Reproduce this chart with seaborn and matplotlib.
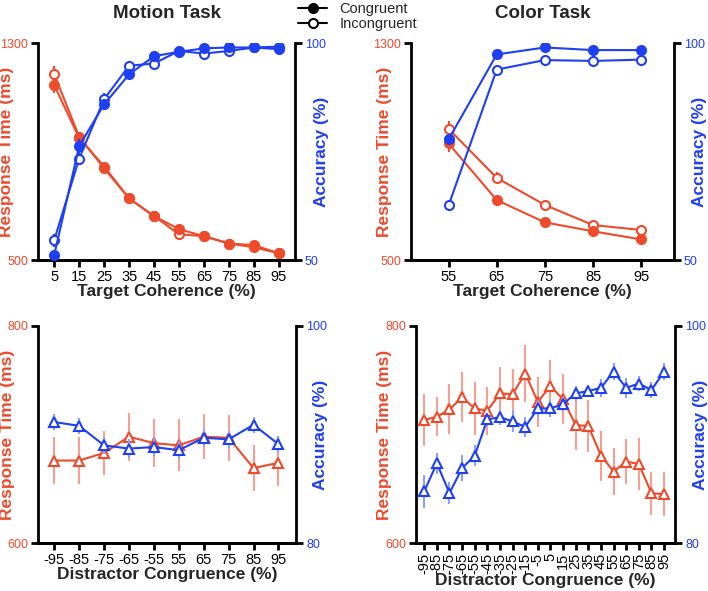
import numpy as np
import pandas as pd
import matplotlib
matplotlib.use("Agg")
import matplotlib.pyplot as plt
from matplotlib.lines import Line2D
import seaborn as sns

sns.set_style("ticks")
plt.rcParams['font.family'] = ['Liberation Sans', 'DejaVu Sans']

RED = "#ee4a2c"
BLUE = "#1f3ff2"
RED_L = "#f4a094"
BLUE_L = "#8d9ff6"

# ---------------- data ----------------
motion_coh = ["5", "15", "25", "35", "45", "55", "65", "75", "85", "95"]
motion_rt_con = [1145, 950, 845, 727, 662, 614, 588, 561, 555, 525]
motion_rt_inc = [1185, 955, 838, 727, 662, 595, 588, 561, 547, 525]
motion_rt_con_err = [28, 18, 15, 12, 10, 8, 6, 5, 5, 5]
motion_rt_inc_err = [30, 18, 15, 14, 10, 8, 6, 5, 5, 5]
motion_acc_con = [51.2, 76.3, 85.9, 92.8, 97.0, 98.0, 98.8, 99.0, 99.0, 98.6]
motion_acc_inc = [54.6, 73.4, 87.1, 94.8, 95.3, 98.2, 97.6, 98.2, 99.0, 99.2]
motion_acc_con_err = [1.2, 1.5, 1.4, 1.0, 0.6, 0.5, 0.4, 0.4, 0.4, 0.4]
motion_acc_inc_err = [1.5, 1.5, 1.4, 1.0, 0.6, 0.5, 0.4, 0.4, 0.4, 0.4]

color_coh = ["55", "65", "75", "85", "95"]
color_rt_con = [930, 721, 639, 606, 576]
color_rt_inc = [984, 803, 703, 629, 611]
color_rt_con_err = [30, 15, 12, 8, 8]
color_rt_inc_err = [30, 20, 15, 8, 8]
color_acc_con = [77.8, 97.4, 99.0, 98.4, 98.4]
color_acc_inc = [62.6, 93.9, 96.1, 95.9, 96.2]
color_acc_con_err = [1.0, 0.5, 0.4, 0.4, 0.4]
color_acc_inc_err = [1.2, 0.6, 0.4, 0.4, 0.4]

motion_dist = ["-95", "-85", "-75", "-65", "-55", "55", "65", "75", "85", "95"]
motion_dist_rt = [676, 676, 683, 698, 692, 690, 698, 697, 669, 674]
motion_dist_rt_err = [22, 22, 20, 22, 22, 24, 21, 21, 21, 21]
motion_dist_acc = [91.15, 90.8, 89.0, 88.7, 88.85, 88.55, 89.7, 89.55, 90.9, 89.1]
motion_dist_acc_err = [0.75, 0.75, 0.8, 0.9, 0.8, 0.85, 0.8, 0.8, 0.75, 0.8]

color_dist = ["-95", "-85", "-75", "-65", "-55", "-45", "-35", "-25", "-15", "-5",
              "5", "15", "25", "35", "45", "55", "65", "75", "85", "95"]
color_dist_rt = [713.3, 716.4, 723.1, 734.2, 724.0, 721.9, 737.8, 737.2, 756.2, 730.2,
                 744.6, 732.3, 708.7, 707.8, 680.6, 665.9, 675.0, 672.9, 645.9, 645.0]
color_dist_rt_err = [23.7, 18, 23, 23, 24, 22, 24, 23, 26, 23,
                     24, 23, 23, 24, 23, 22, 21, 24, 20, 20]
color_dist_acc = [84.75, 87.35, 84.6, 86.9, 88.05, 91.4, 91.6, 91.2, 90.7, 92.4,
                  92.4, 92.8, 93.8, 94.0, 94.3, 95.8, 94.3, 94.7, 94.1, 95.8]
color_dist_acc_err = [1.5, 0.95, 1.0, 1.2, 0.95, 0.6, 0.7, 1.0, 0.95, 0.77,
                      0.77, 0.66, 0.67, 0.57, 0.8, 0.77, 0.9, 0.73, 0.72, 0.77]

# ---------------- figure ----------------
fig = plt.figure(figsize=(7.08, 5.91), dpi=100)
LABEL_FS = 12.5


def style_axes(ax, ax2, labels, ylim, ylim2, xlim, lx, rx, rotate=False):
    ax.set_xlim(*xlim)
    ax.set_ylim(*ylim)
    ax2.set_ylim(*ylim2)
    ax.set_xticks(range(len(labels)))
    ax.set_xticklabels(labels, rotation=90 if rotate else 0, fontsize=10.5)
    ax.set_yticks(list(ylim))
    ax2.set_yticks(list(ylim2))
    ax.set_yticklabels([str(v) for v in ylim], fontsize=9)
    ax2.set_yticklabels([str(v) for v in ylim2], fontsize=9)
    for a in (ax, ax2):
        a.spines['top'].set_visible(False)
        for s in ('left', 'right', 'bottom'):
            a.spines[s].set_linewidth(2.0)
            a.spines[s].set_color('black')
        a.tick_params(axis='both', width=2.0, length=5, pad=2, colors='black')
        a.grid(False)
    ax.spines['right'].set_visible(False)
    ax2.spines['left'].set_visible(False)
    for t in ax.get_yticklabels():
        t.set_color(RED)
    for t in ax2.get_yticklabels():
        t.set_color(BLUE)
    ax.set_ylabel("Response Time (ms)", color=RED, fontsize=LABEL_FS, fontweight='bold')
    ax2.set_ylabel("Accuracy (%)", color=BLUE, fontsize=LABEL_FS, fontweight='bold')
    ax.yaxis.set_label_coords(lx, 0.5)
    ax2.yaxis.set_label_coords(rx, 0.5)


def draw(ax, x, y, err, color, ecolor, marker, filled, ms=6.5):
    ax.errorbar(x, y, yerr=err, fmt='none', ecolor=ecolor, elinewidth=1.5, capsize=0, zorder=2)
    sns.lineplot(x=x, y=y, ax=ax, color=color, linewidth=1.5, marker=marker,
                 markersize=ms, markeredgecolor=color, markeredgewidth=1.5,
                 markerfacecolor=color if filled else 'white', zorder=3,
                 errorbar=None, legend=False)


# Top-left: Motion Task
ax1 = fig.add_axes([0.0537, 0.560, 0.363, 0.367])
ax1b = ax1.twinx()
x = np.arange(len(motion_coh))
draw(ax1, x, motion_rt_inc, motion_rt_inc_err, RED, RED, 'o', False)
draw(ax1, x, motion_rt_con, motion_rt_con_err, RED, RED, 'o', True)
draw(ax1b, x, motion_acc_inc, motion_acc_inc_err, BLUE, BLUE, 'o', False)
draw(ax1b, x, motion_acc_con, motion_acc_con_err, BLUE, BLUE, 'o', True)
style_axes(ax1, ax1b, motion_coh, (500, 1300), (50, 100), (-0.65, 9.65), -0.093, 1.074)
ax1.set_xlabel("Target Coherence (%)", fontsize=LABEL_FS, fontweight='bold')
ax1.xaxis.set_label_coords(0.5, -0.112)
ax1.set_title("Motion Task", fontsize=13.5, fontweight='bold', pad=18)

# Top-right: Color Task
ax2 = fig.add_axes([0.5805, 0.560, 0.3715, 0.367])
ax2b = ax2.twinx()
x = np.arange(len(color_coh))
draw(ax2, x, color_rt_inc, color_rt_inc_err, RED, RED, 'o', False)
draw(ax2, x, color_rt_con, color_rt_con_err, RED, RED, 'o', True)
draw(ax2b, x, color_acc_inc, color_acc_inc_err, BLUE, BLUE, 'o', False)
draw(ax2b, x, color_acc_con, color_acc_con_err, BLUE, BLUE, 'o', True)
style_axes(ax2, ax2b, color_coh, (500, 1300), (50, 100), (-0.78, 4.68), -0.072, 1.068)
ax2.set_xlabel("Target Coherence (%)", fontsize=LABEL_FS, fontweight='bold')
ax2.xaxis.set_label_coords(0.5, -0.112)
ax2.set_title("Color Task", fontsize=13.5, fontweight='bold', pad=18)

# Bottom-left: Motion distractor
ax3 = fig.add_axes([0.0537, 0.0812, 0.365, 0.3672])
ax3b = ax3.twinx()
x = np.arange(len(motion_dist))
draw(ax3, x, motion_dist_rt, motion_dist_rt_err, RED, RED_L, '^', False, ms=7)
draw(ax3b, x, motion_dist_acc, motion_dist_acc_err, BLUE, BLUE_L, '^', False, ms=7)
style_axes(ax3, ax3b, motion_dist, (600, 800), (80, 100), (-0.65, 9.72), -0.088, 1.066)
ax3.set_xlabel("Distractor Congruence (%)", fontsize=LABEL_FS, fontweight='bold')
ax3.xaxis.set_label_coords(0.5, -0.11)

# Bottom-right: Color distractor
ax4 = fig.add_axes([0.5876, 0.0812, 0.3664, 0.3672])
ax4b = ax4.twinx()
x = np.arange(len(color_dist))
draw(ax4b, x, color_dist_acc, color_dist_acc_err, BLUE, BLUE_L, '^', False, ms=7)
draw(ax4, x, color_dist_rt, color_dist_rt_err, RED, RED_L, '^', False, ms=7)
style_axes(ax4, ax4b, color_dist, (600, 800), (80, 100), (-0.65, 19.9), -0.092, 1.069, rotate=True)
ax4.set_xlabel("Distractor Congruence (%)", fontsize=LABEL_FS, fontweight='bold')
ax4.xaxis.set_label_coords(0.5, -0.138)

# Legend
handles = [Line2D([0], [0], color='black', lw=1.5, marker='o', markersize=6.5,
                  markerfacecolor='black', markeredgecolor='black', markeredgewidth=1.5),
           Line2D([0], [0], color='black', lw=1.5, marker='o', markersize=6.5,
                  markerfacecolor='white', markeredgecolor='black', markeredgewidth=1.5)]
fig.legend(handles, ["Congruent", "Incongruent"], loc='upper center',
           bbox_to_anchor=(0.505, 1.014), frameon=False, fontsize=10.5,
           handlelength=2.0, handletextpad=0.8, labelspacing=0.05, borderpad=0.2)

fig.savefig("out.png", dpi=100)
